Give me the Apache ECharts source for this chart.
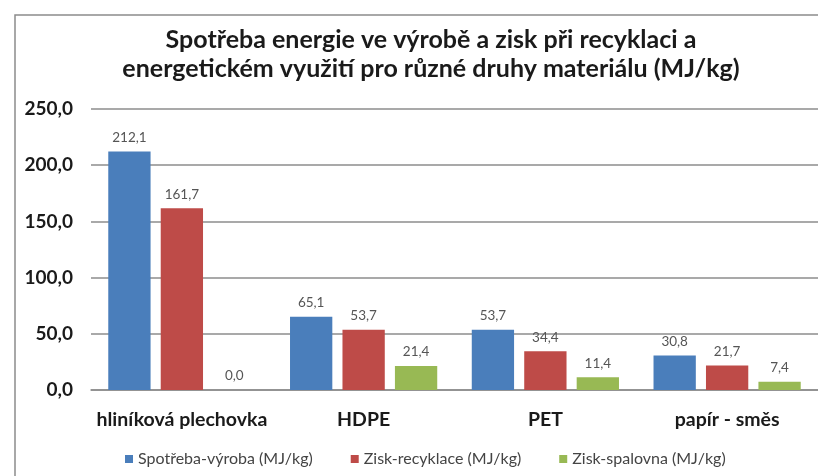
<!DOCTYPE html>
<html>
<head>
<meta charset="utf-8">
<script src="https://cdn.jsdelivr.net/npm/echarts@6/dist/echarts.min.js"></script>
<style>
  html, body { margin: 0; padding: 0; background: #fff; }
  #chart { width: 818px; height: 476px; }
</style>
</head>
<body>
<div id="chart"></div>
<script>
// kategorie materiálů
const categories = ['hliníková plechovka', 'HDPE', 'PET', 'papír - směs'];
const seriesNames = ['Spotřeba-výroba (MJ/kg)', 'Zisk-recyklace (MJ/kg)', 'Zisk-spalovna (MJ/kg)'];
const spotrebaVyroba = [212.1, 65.1, 53.7, 30.8];
const ziskRecyklace = [161.7, 53.7, 34.4, 21.7];
const ziskSpalovna = [0.0, 21.4, 11.4, 7.4];
const colors = ['#4a7ebb', '#be4b48', '#98b954'];

const fmt = v => v.toFixed(1).replace('.', ',');
const font = 'Lato, "Noto Sans", sans-serif';

const chart = echarts.init(document.getElementById('chart'));

const makeSeries = (name, data, color) => ({
  name: name,
  type: 'bar',
  data: data,
  itemStyle: { color: color },
  barGap: '24%',
  barCategoryGap: '19%',
  label: {
    show: true,
    position: 'top',
    distance: 7,
    color: '#555',
    fontSize: 13.5,
    fontFamily: font,
    formatter: p => fmt(p.value)
  }
});

chart.setOption({
  animation: false,
  graphic: [{
    type: 'rect',
    shape: { x: 15, y: 15, width: 820, height: 480 },
    style: { fill: 'none', stroke: '#8c8c8c', lineWidth: 1.5 }
  }],
  title: {
    text: 'Spotřeba energie ve výrobě a zisk při recyklaci a\nenergetickém využití pro různé druhy materiálu (MJ/kg)',
    left: 426,
    top: 20,
    textAlign: 'center',
    textStyle: {
      fontFamily: font,
      fontSize: 25,
      fontWeight: 'bold',
      color: '#1a1a1a',
      lineHeight: 29,
      align: 'center'
    }
  },
  legend: {
    data: seriesNames,
    left: 120,
    top: 446,
    itemWidth: 8,
    itemHeight: 8,
    itemGap: 38,
    icon: 'rect',
    textStyle: { fontFamily: font, fontSize: 16, color: '#444' }
  },
  grid: { left: 91, right: -6, top: 109, bottom: 86, containLabel: false },
  xAxis: {
    type: 'category',
    data: categories,
    axisLine: { lineStyle: { color: '#8c8c8c', width: 1.5 } },
    axisTick: { show: false },
    axisLabel: {
      interval: 0,
      margin: 20,
      fontFamily: font,
      fontSize: 19.5,
      fontWeight: 'bold',
      color: '#1a1a1a'
    }
  },
  yAxis: {
    type: 'value',
    min: 0,
    max: 250,
    interval: 50,
    axisLine: { show: false },
    axisTick: { show: false },
    splitLine: { lineStyle: { color: '#8c8c8c', width: 1.5 } },
    axisLabel: {
      margin: 18,
      fontFamily: font,
      fontSize: 19,
      fontWeight: 'bold',
      color: '#1a1a1a',
      formatter: v => fmt(v)
    }
  },
  series: [
    makeSeries(seriesNames[0], spotrebaVyroba, colors[0]),
    makeSeries(seriesNames[1], ziskRecyklace, colors[1]),
    makeSeries(seriesNames[2], ziskSpalovna, colors[2])
  ]
});
</script>
</body>
</html>
